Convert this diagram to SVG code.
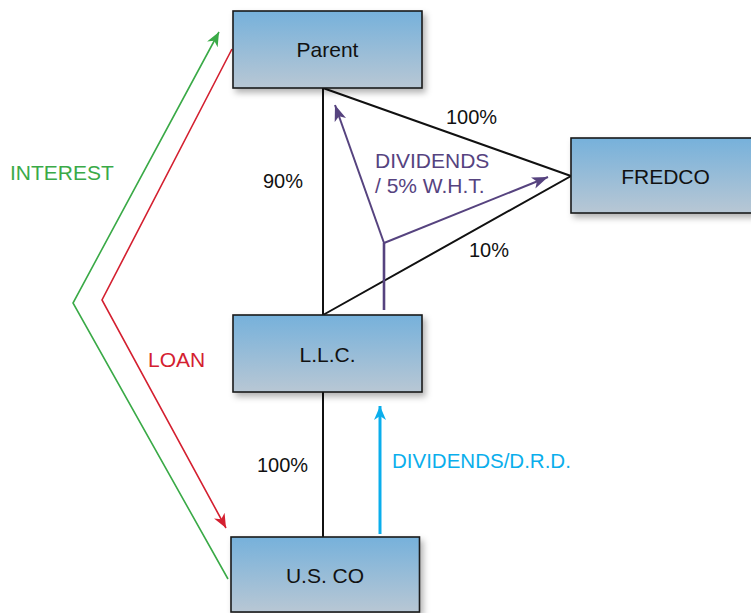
<svg xmlns="http://www.w3.org/2000/svg" width="751" height="613" viewBox="0 0 751 613">
<defs>
<linearGradient id="boxGrad" x1="0" y1="0" x2="0" y2="1">
<stop offset="0" stop-color="#76b1db"/>
<stop offset="1" stop-color="#b8c7d4"/>
</linearGradient>
<filter id="shadow" x="-10%" y="-10%" width="130%" height="140%">
<feDropShadow dx="3" dy="4" stdDeviation="3" flood-color="#000" flood-opacity="0.3"/>
</filter>
<marker id="arrGreen" markerUnits="userSpaceOnUse" markerWidth="16" markerHeight="14" refX="14" refY="6" orient="auto">
<path d="M0,0 L14,6 L0,12 L4,6 z" fill="#3aaa47"/>
</marker>
<marker id="arrRed" markerUnits="userSpaceOnUse" markerWidth="16" markerHeight="14" refX="14" refY="6" orient="auto">
<path d="M0,0 L14,6 L0,12 L4,6 z" fill="#d42030"/>
</marker>
<marker id="arrPurple" markerUnits="userSpaceOnUse" markerWidth="18" markerHeight="14" refX="16" refY="6" orient="auto">
<path d="M0,0 L16,6 L0,12 L4,6 z" fill="#56437f"/>
</marker>
<marker id="arrCyan" markerUnits="userSpaceOnUse" markerWidth="16" markerHeight="14" refX="14" refY="6" orient="auto">
<path d="M0,0 L14,6 L0,12 L4,6 z" fill="#0aaeec"/>
</marker>
</defs>
<style>
.box { fill: url(#boxGrad); stroke: #1a1a1a; stroke-width: 1.6; filter: url(#shadow); }
.ntext { font-family: "Liberation Sans", Arial, sans-serif; font-size: 21px; fill: #111; text-anchor: middle; }
.lbl { font-family: "Liberation Sans", Arial, sans-serif; font-size: 20px; fill: #111; }
.own { stroke: #111; stroke-width: 2; fill: none; }
</style>

<g id="connectors">
<path class="own" d="M323,88 V315"/>
<path class="own" d="M323,88 L571,176 L323,315"/>
<path class="own" d="M323,392 V537"/>
<polyline points="228,579 73,303 219,32" fill="none" stroke="#3aaa47" stroke-width="1.6" marker-end="url(#arrGreen)"/>
<polyline points="232,49 102,300 226,528" fill="none" stroke="#d42030" stroke-width="1.6" marker-end="url(#arrRed)"/>
<path d="M384,310 V243" fill="none" stroke="#56437f" stroke-width="2.6"/>
<path d="M384,243 L335,105" fill="none" stroke="#56437f" stroke-width="2" marker-end="url(#arrPurple)"/>
<path d="M384,243 L548,177" fill="none" stroke="#56437f" stroke-width="2" marker-end="url(#arrPurple)"/>
<path d="M380,534 V406" fill="none" stroke="#0aaeec" stroke-width="3" marker-end="url(#arrCyan)"/>
<text class="lbl" x="446" y="124">100%</text>
<text class="lbl" x="263" y="188">90%</text>
<text class="lbl" x="469" y="257">10%</text>
<text class="lbl" x="257" y="472">100%</text>
<text x="10" y="180" font-family="Liberation Sans, Arial, sans-serif" font-size="21" fill="#3aaa47">INTEREST</text>
<text x="148" y="367" font-family="Liberation Sans, Arial, sans-serif" font-size="21" fill="#d42030">LOAN</text>
<text x="375" y="168" font-family="Liberation Sans, Arial, sans-serif" font-size="21" fill="#56437f">DIVIDENDS</text>
<text x="375" y="193" font-family="Liberation Sans, Arial, sans-serif" font-size="21" fill="#56437f">/ 5% W.H.T.</text>
<text x="392" y="468" font-family="Liberation Sans, Arial, sans-serif" font-size="20.5" fill="#0aaeec">DIVIDENDS/D.R.D.</text>
</g>

<g id="node-parent">
<rect class="box" x="233" y="11" width="189" height="77"/>
<text class="ntext" x="327.5" y="57">Parent</text>
</g>
<g id="node-fredco">
<rect class="box" x="571" y="138" width="189" height="75"/>
<text class="ntext" x="665.5" y="184">FREDCO</text>
</g>
<g id="node-llc">
<rect class="box" x="233" y="315" width="189" height="77"/>
<text class="ntext" x="327.5" y="362">L.L.C.</text>
</g>
<g id="node-usco">
<rect class="box" x="231" y="537" width="188.5" height="75"/>
<text class="ntext" x="325" y="583">U.S. CO</text>
</g>
</svg>
